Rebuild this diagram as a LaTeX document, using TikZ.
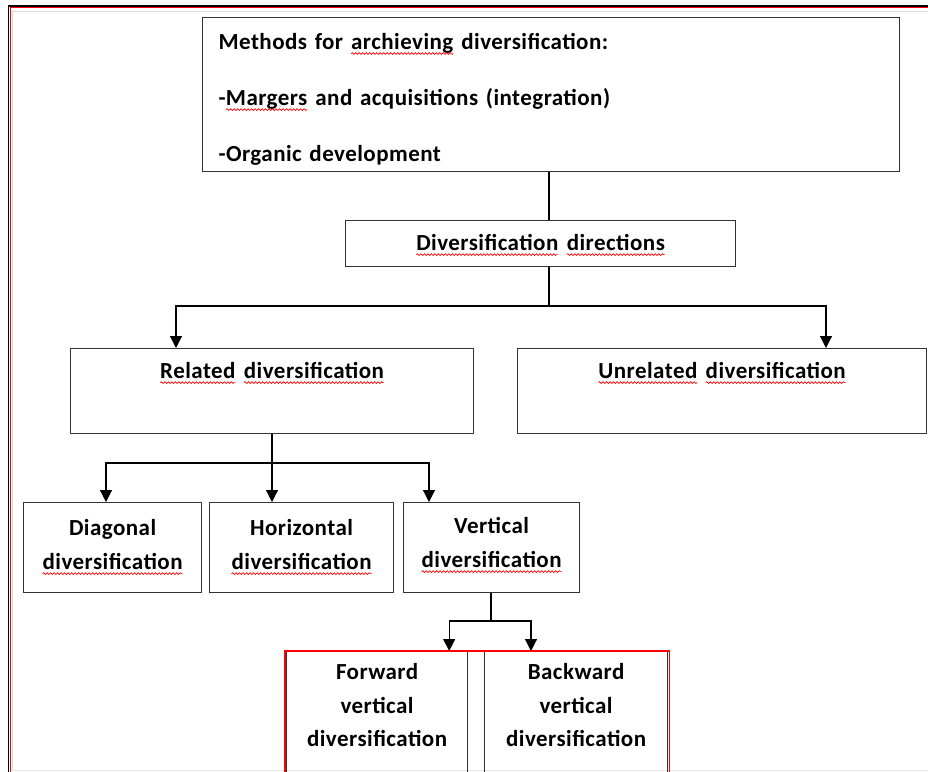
\documentclass[tikz,border=0pt]{standalone}
\usepackage{fontspec}
\setmainfont{Carlito}[LetterSpace=2.0,WordSpace=0.7]
\usetikzlibrary{arrows.meta,decorations.pathmorphing}
\newcommand\sq[1]{\tikz[baseline=(sqw.base),x=1pt,y=1pt]{%
  \node[inner sep=0pt,outer sep=0pt,draw=none,anchor=base] (sqw) at (0,0) {#1};%
  \draw[red, line width=0.7pt, decorate, decoration={snake, amplitude=0.9pt, segment length=3.5pt}]
    ([yshift=-4pt]sqw.base west) -- ([yshift=-4pt]sqw.base east);}}
\tikzset{
  box/.style={draw=black!80, line width=1.2pt, inner xsep=0pt, inner ysep=0pt,
    anchor=north west, align=center, font=\fontsize{23}{34}\selectfont\bfseries},
  conn/.style={draw=black, line width=1.2pt},
  arr/.style={conn, -{Triangle[width=12pt,length=12pt]}}
}
\begin{document}
\begin{tikzpicture}[x=1pt,y=-1pt]
\useasboundingbox (0,0) rectangle (928,771);
\clip (0,0) rectangle (928,771);
\fill[white] (0,0) rectangle (928,771);
% page frame
\draw[black, line width=1.5pt] (8.3,780) -- (8.3,5.8) -- (940,5.8);
\draw[red, line width=0.8pt] (10.7,780) -- (10.7,7.4) -- (940,7.4);
\draw[black!15, line width=0.8pt] (12,770) -- (12,11.5) -- (940,11.5);
\draw[black!10, line width=0.8pt] (12,770) -- (940,770);

\node[box, text width=665pt, inner xsep=16pt, align=left, text height=32pt, text depth=122pt,
  font=\fontsize{23}{56}\selectfont\bfseries] (top) at (202,17)
  {Methods for \sq{archieving} diversification:\\
   -\sq{Margers} and acquisitions (integration)\\
   -Organic development};
\node[box, text width=390pt, text height=30pt, text depth=16pt] (dirs) at (345,220)
  {\sq{Diversification} \sq{directions}};
\node[box, text width=403pt, text height=30pt, text depth=55pt] (rel) at (70,348)
  {\sq{Related} \sq{diversification}};
\node[box, text width=409pt, text height=30pt, text depth=55pt] (unrel) at (517,348)
  {\sq{Unrelated} \sq{diversification}};
\node[box, text width=178pt, text height=33pt, text depth=57pt] (diag) at (23,502)
  {Diagonal\\\sq{diversification}};
\node[box, text width=184pt, text height=33pt, text depth=57pt] (hor) at (209,502)
  {Horizontal\\\sq{diversification}};
\node[box, text width=176pt, text height=31pt, text depth=59pt] (vert) at (403,502)
  {Vertical\\\sq{diversification}};
\node[box, text width=181pt, text height=28pt, text depth=130pt,
  font=\fontsize{23}{33.5}\selectfont\bfseries] (fwd) at (286,651)
  {Forward\\vertical\\diversification};
\node[box, text width=183pt, text height=28pt, text depth=130pt,
  font=\fontsize{23}{33.5}\selectfont\bfseries] (bwd) at (484,651)
  {Backward\\vertical\\diversification};
\draw[red, line width=1.2pt] ([xshift=-1pt]fwd.north west) rectangle ([xshift=1pt]bwd.south east);

% connectors
\coordinate (j1) at (549,306);
\coordinate (j2) at (272,463);
\coordinate (j3) at (491,621);
\draw[conn] (top.south -| j1) -- (dirs.north -| j1);
\draw[conn] (dirs.south -| j1) -- (j1);
\draw[arr] (j1) -| ([xshift=106pt]rel.north west);
\draw[arr] (j1) -| ([xshift=309pt]unrel.north west);
\draw[arr] (rel.south -| j2) -- (hor.north -| j2);
\draw[arr] (j2) -| ([xshift=83pt]diag.north west);
\draw[arr] (j2) -| ([xshift=26pt]vert.north west);
\draw[conn] (vert.south -| j3) -- (j3);
\draw[arr] (j3) -| ([xshift=-19pt]fwd.north east);
\draw[arr] (j3) -| ([xshift=47pt]bwd.north west);
\end{tikzpicture}
\end{document}
